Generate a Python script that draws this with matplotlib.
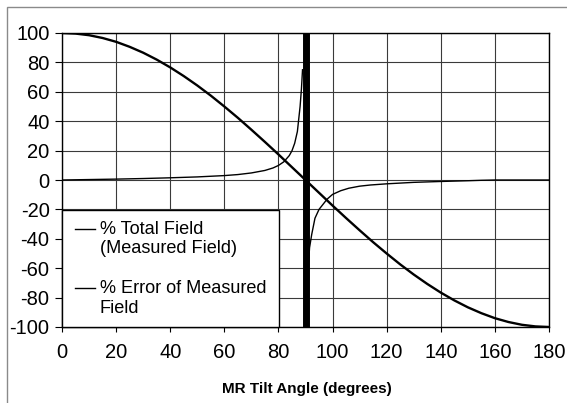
import numpy as np
import matplotlib

matplotlib.use("Agg")
import matplotlib.pyplot as plt
from matplotlib.patches import Rectangle

# MR tilt angle (degrees) and the two series
total_angle = [0, 5, 10, 15, 20, 25, 30, 35, 40, 45, 50, 55, 60, 65, 70, 75, 80, 85, 90,
               95, 100, 105, 110, 115, 120, 125, 130, 135, 140, 145, 150, 155, 160, 165,
               170, 175, 180]
total_field = [100, 99.6, 98.5, 96.6, 94, 90.6, 86.6, 81.9, 76.6, 70.7, 64.3, 57.4, 50,
               42.3, 34.2, 25.9, 17.4, 8.7, 0, -8.7, -17.4, -25.9, -34.2, -42.3, -50,
               -57.4, -64.3, -70.7, -76.6, -81.9, -86.6, -90.6, -94, -96.6, -98.5, -99.6,
               -100]

error_angle = [0, 10, 20, 30, 40, 50, 60, 65, 70, 75, 78, 80, 82, 84, 85, 86, 87, 88,
               88.5, 88.9, 90, 91, 91.5, 92.3, 93.5, 95, 98, 100, 103, 106, 110, 114, 120,
               130, 140, 150, 155, 160, 170, 180]
error_pct = [0, 0.3, 0.6, 1.0, 1.5, 2.1, 3.0, 3.7, 4.8, 6.5, 8.2, 9.9, 12.4, 16.6, 19.9,
             25, 33, 50, 62, 75, np.nan, -60, -46, -37, -26, -20, -13, -9.8, -7.3, -5.6,
             -4.2, -3.4, -2.6, -1.6, -1.0, -0.5, -0.2, 0, 0, 0]

MARKER_ANGLE = 90
LEGEND_LABELS = ["% Total Field\n(Measured Field)", "% Error of Measured\nField"]

plt.rcParams["font.family"] = ["Liberation Sans", "DejaVu Sans"]
plt.rcParams["axes.unicode_minus"] = False

fig = plt.figure(figsize=(5.67, 4.03), dpi=100)
ax = fig.add_axes([62 / 567, 76 / 403, 487 / 567, 294 / 403])

# grey chart-area border (open to the right and bottom, cropped in the source)
fig.patches.append(Rectangle((7 / 567, -0.1), 1.2, 1 - 7 / 403 + 0.1,
                             transform=fig.transFigure, fill=False,
                             edgecolor="#8a8a8a", lw=1.0))

ax.plot(total_angle, total_field, color="black", lw=1.7, zorder=3)
ax.plot(error_angle, error_pct, color="black", lw=1.0, zorder=3)
ax.plot([MARKER_ANGLE, MARKER_ANGLE], [-100, 100], color="black", lw=5, zorder=4,
        solid_capstyle="butt")

ax.set_xlim(0, 180)
ax.set_ylim(-100, 100)
ax.set_xticks(range(0, 181, 20))
ax.set_yticks(range(-100, 101, 20))
ax.grid(True, color="#3a3a3a", lw=0.8)
ax.set_axisbelow(True)
ax.tick_params(axis="x", direction="out", length=3.5, width=0.8, labelsize=14.5, pad=8)
ax.tick_params(axis="y", direction="out", length=5, width=0.8, labelsize=14.5, pad=4)
for s in ax.spines.values():
    s.set_linewidth(1.0)
    s.set_color("black")

ax.set_xlabel("MR Tilt Angle (degrees)", fontsize=11, fontweight="bold", va="center")
ax.xaxis.set_label_coords((307 - 62) / 487, -(389 - 327) / 294)

# legend box drawn in the lower-left corner over the grid
ax.add_patch(Rectangle((0, -100), 80.3, 79.3, facecolor="white", edgecolor="black",
                       lw=1.0, zorder=5, clip_on=False))
for (hy, label) in zip([-33.1, -73.5], LEGEND_LABELS):
    ax.plot([4.8, 12.2], [hy, hy], color="black", lw=1.0, zorder=6)
    ax.text(14, hy + 5.5, label, fontsize=13.1, va="top", ha="left", zorder=6,
            linespacing=1.22)

fig.savefig("out.png", dpi=100)
